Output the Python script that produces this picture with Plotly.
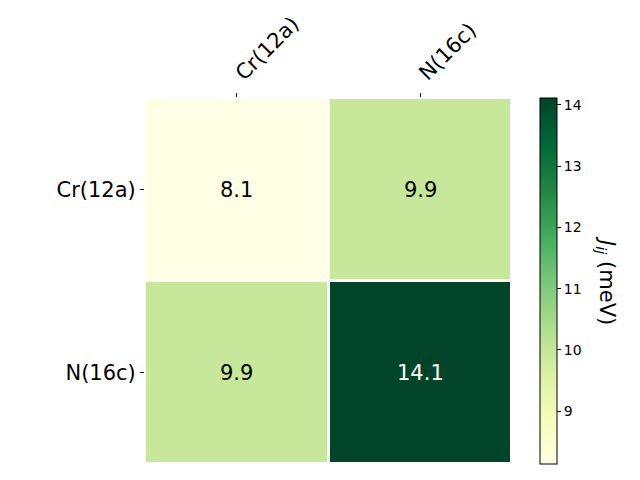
import plotly.graph_objects as go

labels = ["Cr(12a)", "N(16c)"]
z = [[8.14, 9.93], [9.93, 14.11]]
cbar_ticks = [9, 10, 11, 12, 13, 14]

ylgn = [[0.0, "#ffffe5"], [0.125, "#f7fcb9"], [0.25, "#d9f0a3"], [0.375, "#addd8e"],
        [0.5, "#78c679"], [0.625, "#41ab5d"], [0.75, "#238443"], [0.875, "#006837"],
        [1.0, "#004529"]]

zmin, zmax = 8.14, 14.11

fig = go.Figure(go.Heatmap(
    z=z, x=labels, y=labels, colorscale=ylgn, zmin=zmin, zmax=zmax,
    xgap=3, ygap=3, hoverinfo="skip",
    colorbar=dict(
        x=1.076, xanchor="left", xref="paper", y=0.5, yanchor="middle",
        len=1.0, lenmode="fraction", thickness=17, outlinewidth=1, outlinecolor="black",
        xpad=0, ypad=0,
        tickvals=cbar_ticks, ticks="outside", ticklen=4, tickwidth=1, tickcolor="black",
        tickfont=dict(family="DejaVu Sans", size=14, color="black"),
    ),
))

thr = (zmin + zmax) / 2
for i, row in enumerate(z):
    for j, v in enumerate(row):
        fig.add_annotation(x=labels[j], y=labels[i], text=f"{v:.1f}", showarrow=False,
                           font=dict(family="DejaVu Sans", size=21,
                                     color="white" if v > thr else "black"))

fig.add_annotation(xref="paper", yref="paper", x=1.256, y=0.5, textangle=90,
                   xanchor="center", yanchor="middle",
                   text="<i>J</i><sub><i>ij</i></sub> (meV)", showarrow=False,
                   font=dict(family="DejaVu Sans", size=21, color="black"))

fig.update_xaxes(side="top", tickangle=-45, ticks="outside", ticklen=4, tickcolor="black",
                 tickfont=dict(family="DejaVu Sans", size=21, color="black"),
                 showgrid=False, zeroline=False, showline=False)
fig.update_yaxes(autorange="reversed", ticks="outside", ticklen=4, tickcolor="black",
                 tickfont=dict(family="DejaVu Sans", size=21, color="black"),
                 showgrid=False, zeroline=False, showline=False)

fig.update_layout(width=640, height=480, margin=dict(l=145, r=128, t=96, b=16),
                  paper_bgcolor="white", plot_bgcolor="white", showlegend=False)

fig.write_html("out.html")
